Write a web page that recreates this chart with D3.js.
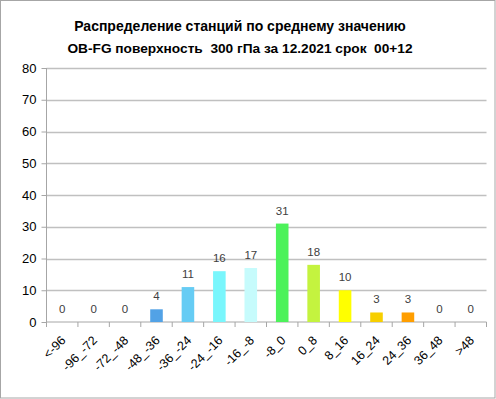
<!DOCTYPE html>
<html>
<head>
<meta charset="utf-8">
<script src="https://cdn.jsdelivr.net/npm/d3@7"></script>
<style>
  body { margin: 0; background: #fff; }
  svg { display: block; }
  text { font-family: "Liberation Sans", Arial, sans-serif; }
</style>
</head>
<body>
<div id="chart"></div>
<script>
var svgWidth = 496;
var svgHeight = 399;

// data
var categories = ["<-96", "-96_-72", "-72_-48", "-48_-36", "-36_-24", "-24_-16", "-16_-8",
  "-8_0", "0_8", "8_16", "16_24", "24_36", "36_48", ">48"];
var counts = [0, 0, 0, 4, 11, 16, 17, 31, 18, 10, 3, 3, 0, 0];
var barColors = ["#52a2e6", "#52a2e6", "#52a2e6", "#52a2e6", "#66ccf4", "#79f6fc", "#c6fbfc",
  "#4cf25a", "#c4f33f", "#ffff00", "#f7cf00", "#ff9e00", "#ff9e00", "#ff9e00"];
var yTicks = [0, 10, 20, 30, 40, 50, 60, 70, 80];
var titleLines = ["Распределение станций по среднему значению",
  "OB-FG поверхность  300 гПа за 12.2021 срок  00+12"];

var margin = { top: 68, right: 9.5, bottom: 77, left: 46.5 };
var width = svgWidth - margin.left - margin.right;
var height = svgHeight - margin.top - margin.bottom;

var svg = d3.select("#chart")
  .append("svg")
  .attr("width", svgWidth)
  .attr("height", svgHeight);

// outer frame
svg.append("rect")
  .attr("x", 0.5)
  .attr("y", 0.5)
  .attr("width", svgWidth - 1.5)
  .attr("height", svgHeight - 1.5)
  .attr("fill", "#fff")
  .attr("stroke", "#a6a6a6");

// title
svg.selectAll(".title")
  .data(titleLines)
  .enter()
  .append("text")
  .attr("class", "title")
  .attr("x", 240)
  .attr("y", (d, i) => 31 + i * 22)
  .attr("text-anchor", "middle")
  .attr("font-weight", "bold")
  .attr("font-size", (d, i) => i === 0 ? 14 : 13.7)
  .attr("fill", "#000")
  .style("white-space", "pre")
  .text(d => d);

var chartGroup = svg.append("g")
  .attr("transform", `translate(${margin.left}, ${margin.top})`);

var xScale = d3.scaleBand()
  .domain(categories)
  .range([0, width])
  .paddingInner(0.6)
  .paddingOuter(0.3);

var yScale = d3.scaleLinear()
  .domain([0, 80])
  .range([height, 0]);

// gridlines
chartGroup.selectAll(".grid")
  .data(yTicks.slice(1))
  .enter()
  .append("line")
  .attr("x1", 0)
  .attr("x2", width)
  .attr("y1", d => Math.round(yScale(d)) + 0.5)
  .attr("y2", d => Math.round(yScale(d)) + 0.5)
  .attr("stroke", "#c0c0c0")
  .attr("stroke-width", 1.5);

// y axis
var leftAxis = d3.axisLeft(yScale)
  .tickValues(yTicks)
  .tickSize(5)
  .tickPadding(5);

var yAxis = chartGroup.append("g").call(leftAxis);
yAxis.select(".domain").attr("stroke", "#a6a6a6").attr("d", `M0,0V${height}`);
yAxis.selectAll(".tick line").attr("stroke", "#a6a6a6");
yAxis.selectAll(".tick text")
  .attr("font-family", "Liberation Sans, Arial, sans-serif")
  .attr("font-size", 13)
  .attr("fill", "#000");

// x axis: ticks at category boundaries
var boundaries = d3.range(categories.length + 1).map(i => i * width / categories.length);

var xAxisGroup = chartGroup.append("g")
  .attr("transform", `translate(0, ${height})`);

xAxisGroup.append("line")
  .attr("x1", 0)
  .attr("x2", width)
  .attr("y1", 0)
  .attr("y2", 0)
  .attr("stroke", "#a6a6a6");

xAxisGroup.selectAll(".btick")
  .data(boundaries)
  .enter()
  .append("line")
  .attr("x1", d => d)
  .attr("x2", d => d)
  .attr("y1", 0)
  .attr("y2", 5)
  .attr("stroke", "#a6a6a6");

xAxisGroup.selectAll(".xlabel")
  .data(categories)
  .enter()
  .append("text")
  .attr("class", "xlabel")
  .attr("text-anchor", "end")
  .attr("font-size", 12.5)
  .attr("fill", "#000")
  .attr("transform", d => `translate(${xScale(d) + xScale.bandwidth() / 2 - 2}, 13) rotate(-45)`)
  .attr("dy", "0.7em")
  .text(d => d);

// bars
chartGroup.selectAll(".bar")
  .data(categories)
  .enter()
  .append("rect")
  .attr("class", "bar")
  .attr("x", d => xScale(d))
  .attr("width", xScale.bandwidth())
  .attr("y", (d, i) => yScale(counts[i]))
  .attr("height", (d, i) => height - yScale(counts[i]))
  .attr("fill", (d, i) => barColors[i]);

// value labels
chartGroup.selectAll(".val")
  .data(categories)
  .enter()
  .append("text")
  .attr("class", "val")
  .attr("x", d => xScale(d) + xScale.bandwidth() / 2)
  .attr("y", (d, i) => yScale(counts[i]) - 9)
  .attr("text-anchor", "middle")
  .attr("font-size", 11.5)
  .attr("fill", "#404040")
  .text((d, i) => counts[i]);
</script>
</body>
</html>
